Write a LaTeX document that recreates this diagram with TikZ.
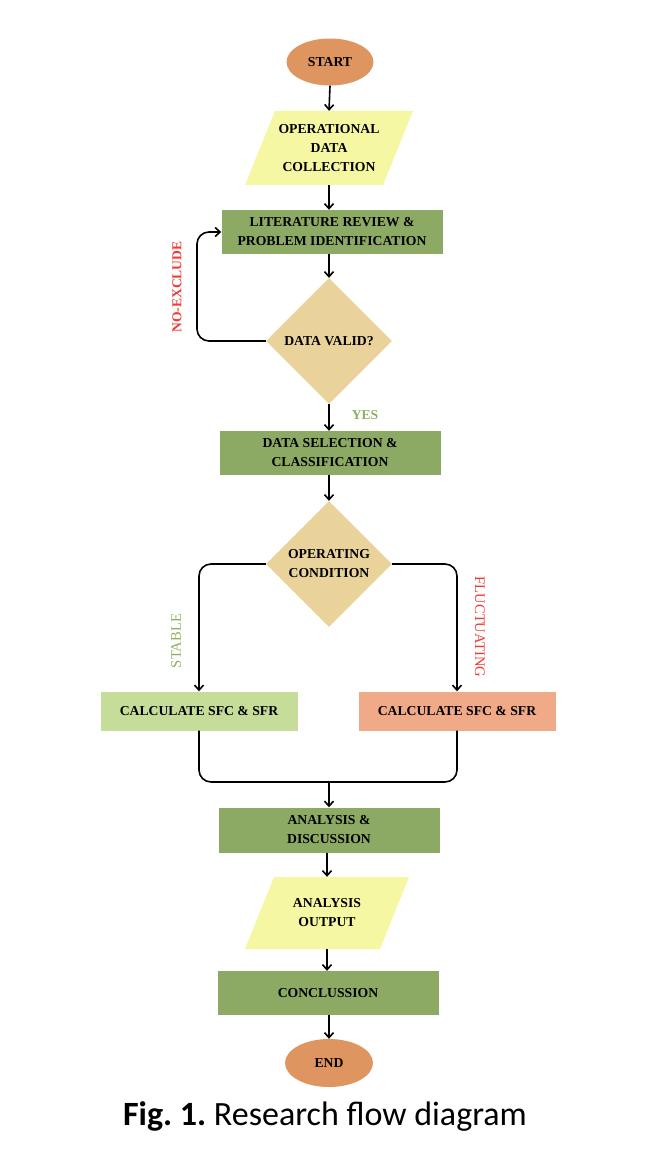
\documentclass[tikz,border=0pt]{standalone}
\usepackage{fontspec}
\setmainfont{Liberation Serif}
\newfontfamily\capfont{Carlito}
\usetikzlibrary{arrows.meta,shapes.geometric}
\definecolor{startcol}{HTML}{DE9560}
\definecolor{paracol}{HTML}{F6F7A3}
\definecolor{boxgreen}{HTML}{8CAA63}
\definecolor{diamcol}{HTML}{E9D39A}
\definecolor{lightgr}{HTML}{C6DD9A}
\definecolor{salmon}{HTML}{F1AA88}
\definecolor{labred}{HTML}{F03A35}
\definecolor{labgreen}{HTML}{8DB15E}
\frenchspacing
\begin{document}
\begin{tikzpicture}[x=1pt,y=-1pt,
  txt/.style={font=\fontsize{13.7}{19}\selectfont\bfseries, align=center, text=black},
  term/.style={txt, ellipse, fill=startcol, minimum width=87pt, minimum height=47pt, inner sep=0pt},
  procbox/.style={txt, rectangle, fill=boxgreen, minimum width=221pt, minimum height=44pt, inner sep=0pt},
  iobox/.style={txt, rectangle, minimum width=138pt, minimum height=74pt, inner sep=0pt},
  decbox/.style={txt, diamond, fill=diamcol, minimum width=126pt, minimum height=126pt, inner sep=0pt},
  calcbox/.style={txt, rectangle, minimum width=197pt, minimum height=39pt, inner sep=0pt},
  arr/.style={-{Straight Barb[length=5pt,width=9pt]}, line width=1.6pt},
  ln/.style={line width=1.6pt, rounded corners=12pt},
  lab/.style={font=\fontsize{13.6}{15}\selectfont\bfseries}
]
\useasboundingbox (0,0) rectangle (654,1158);
\fill[white] (0,0) rectangle (654,1158);

% parallelograms
\fill[paracol] (275,111) -- (413,111) -- (383,185) -- (245,185) -- cycle;
\fill[paracol] (274,877) -- (409,877) -- (380,949) -- (245,949) -- cycle;

\node[term] (start) at (330,62) {START};
\node[iobox] (data) at (329,148) {OPERATIONAL\\DATA\\COLLECTION};
\node[procbox] (lit) at (332,232) {LITERATURE REVIEW \&\\PROBLEM IDENTIFICATION};
\node[decbox] (valid) at (329,341) {DATA VALID?};
\node[procbox] (sel) at (330,453) {DATA SELECTION \&\\CLASSIFICATION};
\node[decbox] (oper) at (329,564) {OPERATING\\CONDITION};
\node[calcbox, fill=lightgr] (stable) at (199,711) {CALCULATE SFC \& SFR};
\node[calcbox, fill=salmon] (fluct) at (457,711) {CALCULATE SFC \& SFR};
\node[procbox, minimum height=45pt] (ana) at (329,830) {ANALYSIS \&\\DISCUSSION};
\node[iobox, minimum height=72pt] (out) at (327,913) {ANALYSIS\\OUTPUT};
\node[procbox] (conc) at (328,993) {CONCLUSSION};
\node[term, minimum width=88pt, minimum height=48pt] (end) at (329,1063) {END};

\coordinate (loopc) at (197,232);
\coordinate (joinc) at (329,782);

\draw[arr] (start.south) -- (data.north);
\draw[arr] (data.south) -- (lit.north -| data.south);
\draw[arr] (lit.south -| valid.north) -- (valid.north);
\draw[arr, rounded corners=12pt] (valid.west) -| (loopc) -- (lit.west);
\draw[arr] (valid.south) -- (sel.north -| valid.south);
\draw[arr] (sel.south -| oper.north) -- (oper.north);
\draw[arr, rounded corners=12pt] (oper.west) -| (stable.north);
\draw[arr, rounded corners=12pt] (oper.east) -| (fluct.north);
\draw[ln] (stable.south) |- (joinc) -| (fluct.south);
\draw[arr] (joinc) -- (ana.north -| joinc);
\draw[arr] (ana.south -| out.north) -- (out.north);
\draw[arr] (out.south) -- (conc.north -| out.south);
\draw[arr] (conc.south -| end.north) -- (end.north);

\node[lab, text=labred, rotate=90] (noex) at (177,287) {NO-EXCLUDE};
\node[lab, text=labgreen] (yes) at (365,415) {YES};
\node[lab, text=labgreen, font=\fontsize{14.6}{16}\selectfont, rotate=90] (stl) at (176,641) {STABLE};
\node[lab, text=labred, font=\fontsize{14.6}{16}\selectfont, rotate=-90] (flt) at (480,627) {FLUCTUATING};

\node[font=\capfont\fontsize{34}{40}\selectfont] (cap) at (325,1116) {\textbf{Fig. 1.} Research flow diagram};
\end{tikzpicture}
\end{document}
